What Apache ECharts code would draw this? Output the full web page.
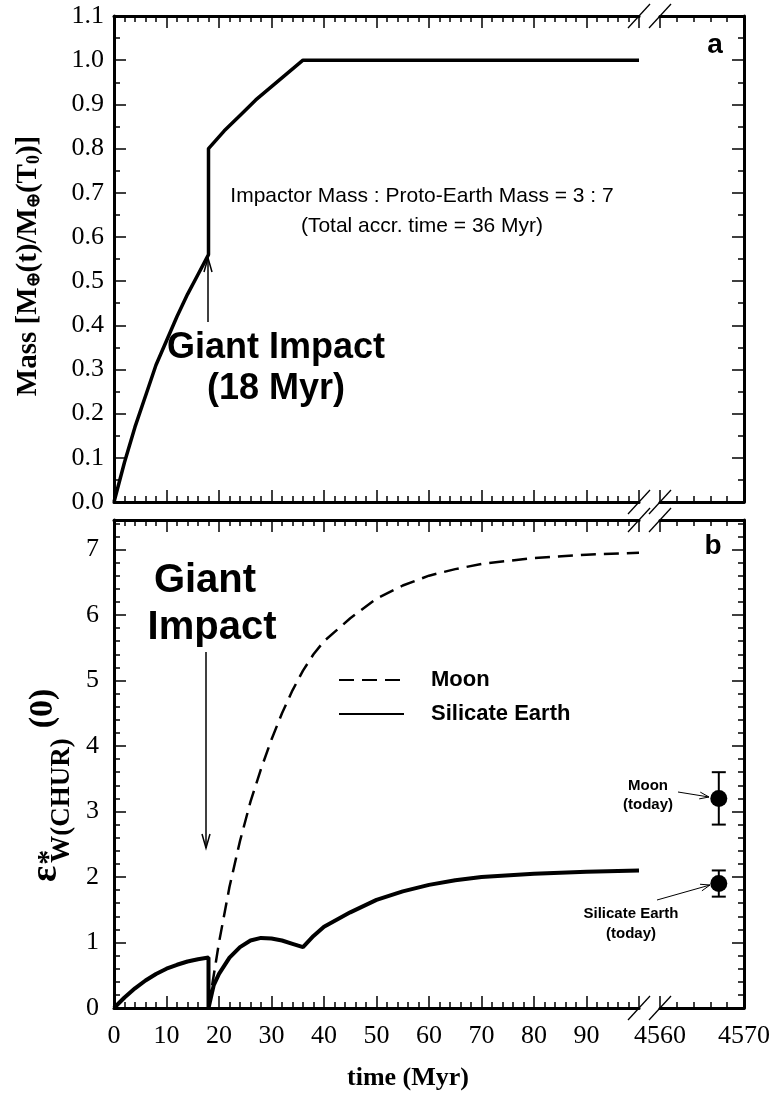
<!DOCTYPE html>
<html><head><meta charset="utf-8">
<script src="https://cdn.jsdelivr.net/npm/echarts@6/dist/echarts.min.js"></script>
<style>html,body{margin:0;padding:0;background:#fff}#c{width:774px;height:1097px}</style>
</head><body><div id="c"></div>
<script>
// ---- data ----
const massTime  = [0, 2, 4, 6, 8, 10, 12, 14, 16, 18, 18, 21, 24, 27, 30, 33, 36, 100];
const massValue = [0, 0.09, 0.17, 0.24, 0.31, 0.365, 0.42, 0.47, 0.515, 0.56, 0.80, 0.84, 0.875, 0.91, 0.94, 0.97, 1.0, 1.0];

const silTime  = [0, 1, 2, 4, 6, 8, 10, 12, 14, 16, 18, 18, 19, 20, 22, 24, 26, 28, 30, 32, 34, 36, 38, 40, 45, 50, 55, 60, 65, 70, 80, 90, 100];
const silValue = [0, 0.08, 0.16, 0.30, 0.42, 0.52, 0.60, 0.66, 0.71, 0.745, 0.77, 0, 0.35, 0.52, 0.77, 0.93, 1.03, 1.07, 1.06, 1.03, 0.98, 0.93, 1.10, 1.24, 1.46, 1.65, 1.78, 1.88, 1.95, 2.00, 2.05, 2.08, 2.10];

const moonTime  = [18, 19, 20, 22, 24, 26, 28, 30, 32, 34, 36, 38, 40, 45, 50, 55, 60, 65, 70, 80, 90, 100];
const moonValue = [0, 0.5, 1.0, 1.85, 2.55, 3.15, 3.65, 4.1, 4.5, 4.85, 5.15, 5.4, 5.6, 5.95, 6.25, 6.45, 6.6, 6.7, 6.78, 6.87, 6.92, 6.95];

const todayNames = ['Moon', 'Silicate Earth'];
const todayTime  = [4567, 4567];
const todayValue = [3.2, 1.9];
const todayErr   = [0.4, 0.2];

const xLeftRange  = [0, 100];
const xRightRange = [4560, 4570];
const massRange   = [0, 1.1];
const epsRange    = [0, 7.45];

// ---- layout ----
const L = 114, LR = 639, RL = 660, R = 744;
const T1 = 16, B1 = 502, T2 = 520, B2 = 1008;
const serif = 'Liberation Serif', sans = 'Liberation Sans';
const black = '#000';

function xAx(gridIndex, range, pos, labels, interval) {
  return {
    type: 'value', gridIndex, position: pos, min: range[0], max: range[1], interval,
    axisLine: { show: true, onZero: false, lineStyle: { color: black, width: 3 } },
    axisTick: { show: true, inside: true, length: 12, lineStyle: { color: black, width: 1.5 } },
    minorTick: { show: true, splitNumber: 5, length: 6, lineStyle: { color: black, width: 1.5 } },
    splitLine: { show: false },
    axisLabel: { show: labels, fontFamily: serif, fontSize: 26, color: black, margin: 15,
                 showMaxLabel: range[1] !== 100, formatter: v => String(v) },
  };
}
function yAx(gridIndex, range, pos, labels, interval, tickLen, line, fmt, minor, margin) {
  return {
    type: 'value', gridIndex, position: pos, min: range[0], max: range[1], interval,
    axisLine: { show: line, onZero: false, lineStyle: { color: black, width: 3 } },
    axisTick: { show: true, inside: true, length: tickLen, lineStyle: { color: black, width: 1.5 } },
    minorTick: { show: !!minor, splitNumber: minor || 1, length: 6, lineStyle: { color: black, width: 1.5 } },
    splitLine: { show: false },
    axisLabel: { show: labels, fontFamily: serif, fontSize: 26, color: black, margin: margin || 11, formatter: fmt },
  };
}
const fmtMass = v => (Math.abs(v * 10 - Math.round(v * 10)) < 1e-6) ? v.toFixed(1) : '';
const fmtEps = v => (Math.abs(v - Math.round(v)) < 1e-6) ? String(Math.round(v)) : '';

const chart = echarts.init(document.getElementById('c'), null, { renderer: 'canvas' });

const cv = document.createElement('canvas').getContext('2d');
function tw(txt, size) { cv.font = 'bold ' + size + 'px "' + serif + '"'; return cv.measureText(txt).width; }
const epsSize = 38, subSize = 27, zeroSize = 34;
const epsW = tw('ε', epsSize), wW = tw('W(CHUR)', subSize);

function slash(x, y) {
  return { type: 'line', shape: { x1: x - 11, y1: y + 12, x2: x + 11, y2: y - 12 },
           style: { stroke: black, lineWidth: 1.3 }, z: 100 };
}
function arrow(x, y1, y2) {
  const d = y2 > y1 ? -1 : 1;
  return [
    { type: 'line', shape: { x1: x, y1: y1, x2: x, y2: y2 }, style: { stroke: black, lineWidth: 1.5 }, z: 100 },
    { type: 'polyline', shape: { points: [[x - 4, y2 + d * 14], [x, y2], [x + 4, y2 + d * 14]] },
      style: { stroke: black, lineWidth: 1.5, fill: null }, z: 100 },
  ];
}
function sideArrow(x1, y1, x2, y2) {
  const a = Math.atan2(y2 - y1, x2 - x1), h = 10, s = 0.35;
  return [
    { type: 'line', shape: { x1, y1, x2, y2 }, style: { stroke: black, lineWidth: 1 }, z: 100 },
    { type: 'polyline', shape: { points: [
        [x2 - h * Math.cos(a - s), y2 - h * Math.sin(a - s)], [x2, y2],
        [x2 - h * Math.cos(a + s), y2 - h * Math.sin(a + s)]] },
      style: { stroke: black, lineWidth: 1, fill: null }, z: 100 },
  ];
}
function txt(text, x, y, size, bold, family, align) {
  return { type: 'text', z: 100, style: { text, x, y, fontSize: size, fontWeight: bold ? 'bold' : 'normal',
    fontFamily: family || sans, fill: black, align: align || 'center', verticalAlign: 'middle' } };
}

const option = {
  animation: false,
  backgroundColor: '#fff',
  grid: [
    { left: L, top: T1, width: LR - L, height: B1 - T1 },
    { left: RL, top: T1, width: R - RL, height: B1 - T1 },
    { left: L, top: T2, width: LR - L, height: B2 - T2 },
    { left: RL, top: T2, width: R - RL, height: B2 - T2 },
  ],
  xAxis: [
    xAx(0, xLeftRange, 'bottom', false, 10),
    xAx(0, xLeftRange, 'top', false, 10),
    xAx(1, xRightRange, 'bottom', false, 10),
    xAx(1, xRightRange, 'top', false, 10),
    xAx(2, xLeftRange, 'bottom', true, 10),
    xAx(2, xLeftRange, 'top', false, 10),
    xAx(3, xRightRange, 'bottom', true, 10),
    xAx(3, xRightRange, 'top', false, 10),
  ],
  yAxis: [
    yAx(0, massRange, 'left', true, 0.1, 12, true, fmtMass, 2, 10),
    yAx(1, massRange, 'right', false, 0.1, 12, true, fmtMass, 2),
    yAx(2, epsRange, 'left', true, 1, 12, true, fmtEps, 0, 15),
    yAx(2, epsRange, 'left', false, 0.2, 6, false, fmtEps),
    yAx(3, epsRange, 'right', false, 1, 12, true, fmtEps),
    yAx(3, epsRange, 'right', false, 0.2, 6, false, fmtEps),
  ],
  legend: {
    orient: 'vertical', left: 333, top: 664, itemWidth: 65, itemHeight: 16, itemGap: 12,
    data: ['Moon', 'Silicate Earth'],
    itemStyle: { opacity: 0 },
    textStyle: { fontFamily: sans, fontWeight: 'bold', fontSize: 22, color: black, padding: [0, 0, 0, 22] },
  },
  series: [
    { name: 'Mass', type: 'line', xAxisIndex: 0, yAxisIndex: 0, symbol: 'none',
      lineStyle: { color: black, width: 3.5 }, data: massTime.map((t, i) => [t, massValue[i]]) },
    { name: 'Moon', type: 'line', xAxisIndex: 4, yAxisIndex: 2, symbol: 'none',
      itemStyle: { color: black },
      lineStyle: { color: black, width: 2.5, type: [15, 8] }, data: moonTime.map((t, i) => [t, moonValue[i]]) },
    { name: 'Silicate Earth', type: 'line', xAxisIndex: 4, yAxisIndex: 2, symbol: 'none',
      itemStyle: { color: black },
      lineStyle: { color: black, width: 4 }, data: silTime.map((t, i) => [t, silValue[i]]) },
    { name: 'today-err', type: 'custom', xAxisIndex: 6, yAxisIndex: 4,
      data: todayTime.map((t, i) => [t, todayValue[i] - todayErr[i], todayValue[i] + todayErr[i]]),
      renderItem(params, api) {
        const x = api.value(0), lo = api.coord([x, api.value(1)]), hi = api.coord([x, api.value(2)]);
        const w = 7, st = { stroke: black, lineWidth: 2 };
        return { type: 'group', children: [
          { type: 'line', shape: { x1: lo[0], y1: lo[1], x2: hi[0], y2: hi[1] }, style: st },
          { type: 'line', shape: { x1: lo[0] - w, y1: lo[1], x2: lo[0] + w, y2: lo[1] }, style: st },
          { type: 'line', shape: { x1: hi[0] - w, y1: hi[1], x2: hi[0] + w, y2: hi[1] }, style: st },
        ] };
      } },
    { name: 'today', type: 'scatter', xAxisIndex: 6, yAxisIndex: 4, symbol: 'circle', symbolSize: 17,
      itemStyle: { color: black, opacity: 1 }, z: 5,
      data: todayTime.map((t, i) => [t, todayValue[i]]) },
  ],
  graphic: [
    slash(LR, T1), slash(RL, T1), slash(LR, B1), slash(RL, B1),
    slash(LR, T2), slash(RL, T2), slash(LR, B2), slash(RL, B2),
    txt('a', 715, 45, 28, true),
    txt('b', 713, 546, 28, true),
    txt('Impactor Mass : Proto-Earth Mass = 3 : 7', 422, 196, 21, false),
    txt('(Total accr. time = 36 Myr)', 422, 226, 21, false),
    ...arrow(208, 322, 258),
    txt('Giant Impact', 276, 348, 36, true),
    txt('(18 Myr)', 276, 389, 36, true),
    txt('Giant', 205, 581, 40, true),
    txt('Impact', 212, 628, 40, true),
    ...arrow(206, 652, 848),
    txt('Moon', 648, 786, 15, true),
    txt('(today)', 648, 805, 15, true),
    ...sideArrow(678, 792, 709, 797),
    txt('Silicate Earth', 631, 914, 15, true),
    txt('(today)', 631, 934, 15, true),
    ...sideArrow(657, 900, 710, 885),
    txt('time (Myr)', 408, 1078, 26, true, serif),
    { type: 'text', x: 29, y: 266, rotation: Math.PI / 2, z: 100,
      style: { text: '{a|Mass [M}{s|⊕}{a|(t)/M}{s|⊕}{a|(T}{s|0}{a|)]}', align: 'center', verticalAlign: 'middle', fill: black,
        rich: { a: { fontFamily: serif, fontWeight: 'bold', fontSize: 29, fill: black, verticalAlign: 'middle' },
                s: { fontFamily: serif, fontWeight: 'bold', fontSize: 18, fill: black, verticalAlign: 'bottom' } } } },
    { type: 'group', x: 46, y: 882, rotation: Math.PI / 2, z: 100, children: [
      { type: 'text', x: 0, y: 0, style: { text: 'ε', fontFamily: serif, fontWeight: 'bold', fontSize: epsSize, fill: black, align: 'left', verticalAlign: 'middle' } },
      { type: 'text', x: epsW + 1, y: 3, style: { text: '*', fontFamily: serif, fontWeight: 'bold', fontSize: 30, fill: black, align: 'left', verticalAlign: 'middle' } },
      { type: 'text', x: epsW + 3, y: 16, style: { text: 'W(CHUR)', fontFamily: serif, fontWeight: 'bold', fontSize: subSize, fill: black, align: 'left', verticalAlign: 'middle' } },
      { type: 'text', x: epsW + 3 + wW + 10, y: -3, style: { text: '(0)', fontFamily: serif, fontWeight: 'bold', fontSize: zeroSize, fill: black, align: 'left', verticalAlign: 'middle' } },
    ] },
  ],
};
chart.setOption(option);
</script></body></html>
